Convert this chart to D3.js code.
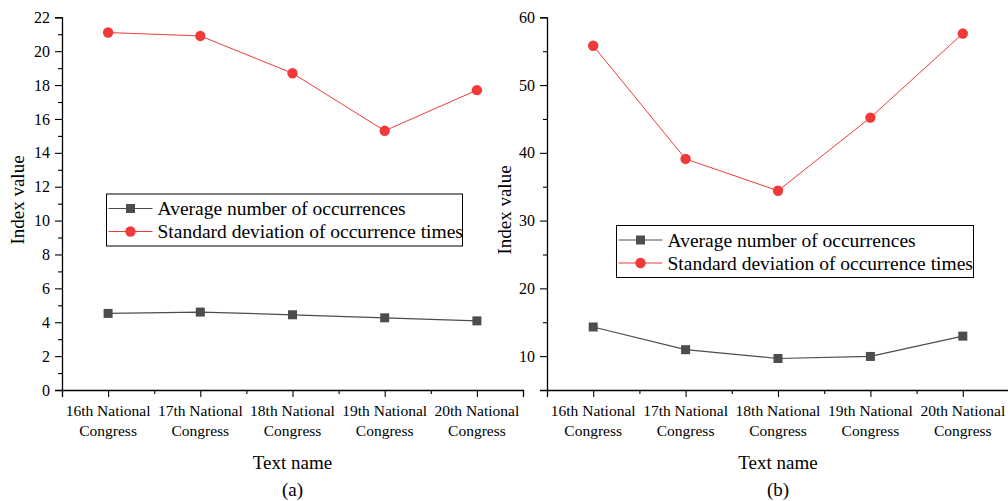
<!DOCTYPE html>
<html><head><meta charset="utf-8">
<script src="https://cdn.jsdelivr.net/npm/d3@7"></script>
<style>
body{margin:0;background:#fff;}
</style></head>
<body><svg id="c" width="1008" height="501" font-family="'Liberation Serif', Tinos, 'Times New Roman', 'DejaVu Serif', serif"></svg>
<script>
const categories = ["16th National Congress","17th National Congress","18th National Congress","19th National Congress","20th National Congress"];
const seriesNames = ["Average number of occurrences","Standard deviation of occurrence times"];
const avgA = [4.52, 4.60, 4.44, 4.26, 4.08];
const stdA = [21.1, 20.9, 18.7, 15.3, 17.7];
const avgB = [14.3, 10.95, 9.65, 9.95, 12.95];
const stdB = [55.8, 39.1, 34.4, 45.2, 57.6];
const yTicksA = [0,2,4,6,8,10,12,14,16,18,20,22];
const yTicksB = [10,20,30,40,50,60];

const FONT = "'Liberation Serif', Tinos, 'Times New Roman', 'DejaVu Serif', serif";
const svg = d3.select("#c");
const RED = "#f03a3a", GREY = "#4d4d4d";

function panel(o){
  const g = svg.append("g");
  const x = d3.scaleLinear().domain([0.5, 5.5]).range([o.x0, o.x1]);
  const y = d3.scaleLinear().domain(o.ydom).range([390, 17.3]);
  const ya = d3.axisLeft(y).tickValues(o.yticks).tickSize(7).tickPadding(5).tickFormat(d3.format("d"));
  const yg = g.append("g").attr("transform",`translate(${o.x0},0)`).call(ya);
  const ym = d3.axisLeft(y).tickValues(o.yminor).tickSize(4).tickFormat("");
  g.append("g").attr("transform",`translate(${o.x0},0)`).call(ym).select(".domain").remove();
  yg.selectAll("text").attr("font-family",FONT).style("font-size","16px").attr("fill","#000");
  const xa = d3.axisBottom(x).tickValues([1,2,3,4,5]).tickSize(7).tickFormat("");
  g.append("g").attr("transform","translate(0,390)").call(xa);
  const xm = d3.axisBottom(x).tickValues([1.5,2.5,3.5,4.5]).tickSize(4).tickFormat("");
  g.append("g").attr("transform","translate(0,390)").call(xm).select(".domain").remove();
  g.selectAll("g").attr("font-family",FONT);
  g.selectAll(".domain").attr("stroke","#000").attr("stroke-width",1.3);
  g.selectAll(".tick line").attr("stroke","#000").attr("stroke-width",1.1);
  categories.forEach((c,i)=>{
    const parts = c.split(" ");
    const t = g.append("text").attr("x", x(i+1)).attr("y", 416).attr("text-anchor","middle").attr("font-family",FONT).style("font-size","15.5px");
    t.append("tspan").attr("x", x(i+1)).text(parts[0]+" "+parts[1]);
    t.append("tspan").attr("x", x(i+1)).attr("dy", 20).text(parts[2]);
  });
  const cx = x(3);
  g.append("text").attr("x",cx).attr("y",469).attr("text-anchor","middle").attr("font-family",FONT).style("font-size","19px").text("Text name");
  g.append("text").attr("x",cx).attr("y",496).attr("text-anchor","middle").attr("font-family",FONT).style("font-size","19px").text(o.label);
  g.append("text").attr("transform",`translate(${o.ytx},${o.yty}) rotate(-90)`).attr("text-anchor","middle").attr("font-family",FONT).style("font-size","19px").text("Index value");
  const line = d3.line().x((d,i)=>x(i+1)).y(d=>y(d));
  g.append("path").datum(o.avg).attr("d",line).attr("fill","none").attr("stroke",GREY).attr("stroke-width",1.2);
  g.append("path").datum(o.std).attr("d",line).attr("fill","none").attr("stroke",RED).attr("stroke-width",1);
  g.selectAll(".sq").data(o.avg).enter().append("rect")
    .attr("x",(d,i)=>x(i+1)-4.5).attr("y",d=>y(d)-4.5).attr("width",9).attr("height",9).attr("fill",GREY);
  g.selectAll(".ci").data(o.std).enter().append("circle")
    .attr("cx",(d,i)=>x(i+1)).attr("cy",d=>y(d)).attr("r",5.2).attr("fill",RED);
  const L = g.append("g").attr("transform",`translate(${o.lx},${o.ly})`);
  L.append("rect").attr("width",o.lw).attr("height",52).attr("fill","#fff").attr("stroke","#000").attr("stroke-width",1);
  [[GREY,"sq"],[RED,"ci"]].forEach((s,i)=>{
    const yy = 14.5 + i*23;
    L.append("line").attr("x1",2).attr("x2",46).attr("y1",yy).attr("y2",yy).attr("stroke",s[0]).attr("stroke-width",1);
    if(s[1]==="sq") L.append("rect").attr("x",19.5).attr("y",yy-4.5).attr("width",9).attr("height",9).attr("fill",s[0]);
    else L.append("circle").attr("cx",24).attr("cy",yy).attr("r",5.2).attr("fill",s[0]);
    L.append("text").attr("x",51).attr("y",yy+6.5).attr("font-family",FONT).style("font-size","19.5px").text(seriesNames[i]);
  });
}

panel({x0:62, x1:523, ydom:[0,22], yticks:yTicksA, yminor:d3.range(1,22,2), avg:avgA, std:stdA, label:"(a)", ytx:24, yty:200, lx:106.5, ly:194, lw:356});
panel({x0:547, x1:1009, ydom:[5,60], yticks:yTicksB, yminor:[5,15,25,35,45,55], avg:avgB, std:stdB, label:"(b)", ytx:511, yty:210, lx:616.5, ly:225.5, lw:357});
</script></body></html>
